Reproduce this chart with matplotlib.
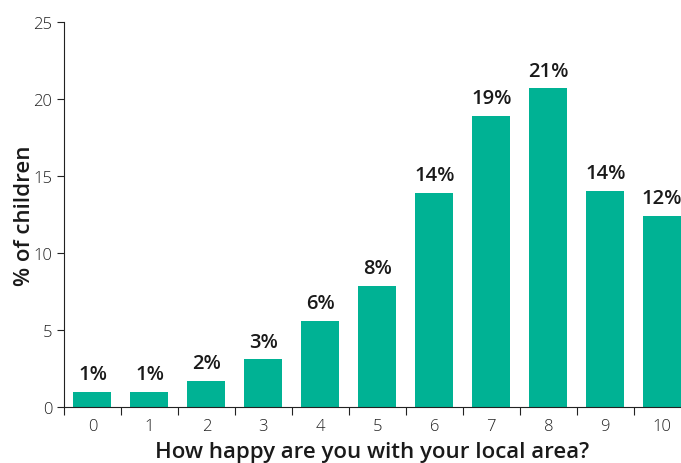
import matplotlib
matplotlib.use("Agg")
import matplotlib.pyplot as plt

plt.rcParams['font.family'] = ['Open Sans', 'DejaVu Sans']

scores = ["0", "1", "2", "3", "4", "5", "6", "7", "8", "9", "10"]
pct = [0.97, 0.97, 1.7, 3.1, 5.6, 7.85, 13.9, 18.9, 20.7, 14.05, 12.4]
bar_labels = ["1%", "1%", "2%", "3%", "6%", "8%", "14%", "19%", "21%", "14%", "12%"]

fig = plt.figure(figsize=(6.81, 4.64), dpi=100)
ax = fig.add_axes([0.094, 0.1207, 0.906, 0.8297])

x = range(len(scores))
bars = ax.bar(x, pct, width=0.667, color="#00B294")
for b, lab in zip(bars, bar_labels):
    ax.text(b.get_x() + b.get_width() / 2, b.get_height() + 0.5, lab,
            ha="center", va="bottom", fontsize=14.5, fontweight="semibold", color="#1a1a1a")

ax.set_xlim(-0.5, 10.33)
ax.set_ylim(0, 25)
ax.set_yticks([0, 5, 10, 15, 20, 25])
ax.set_xticks([i - 0.5 for i in range(len(scores))])
ax.set_xticklabels([])
ax.set_xticks(list(x), minor=True)
ax.set_xticklabels(scores, minor=True)
ax.tick_params(axis="x", which="major", length=6, direction="out", color="#222222")
ax.tick_params(axis="x", which="minor", length=0, labelsize=12, pad=8, labelcolor="#222222")
ax.tick_params(axis="y", length=5, labelsize=12, labelcolor="#222222", color="#222222")
for t in ax.get_xticklabels(minor=True) + ax.get_yticklabels():
    t.set_fontweight("light")

for s in ["top", "right"]:
    ax.spines[s].set_visible(False)
ax.spines["left"].set_color("#222222")
ax.spines["bottom"].set_color("#222222")

ax.set_ylabel("% of children", fontsize=16, fontweight="semibold", labelpad=-1, color="#1a1a1a")
ax.set_xlabel("How happy are you with your local area?", fontsize=16, fontweight="semibold",
              labelpad=5, color="#1a1a1a")

fig.savefig("out.png", dpi=100)
